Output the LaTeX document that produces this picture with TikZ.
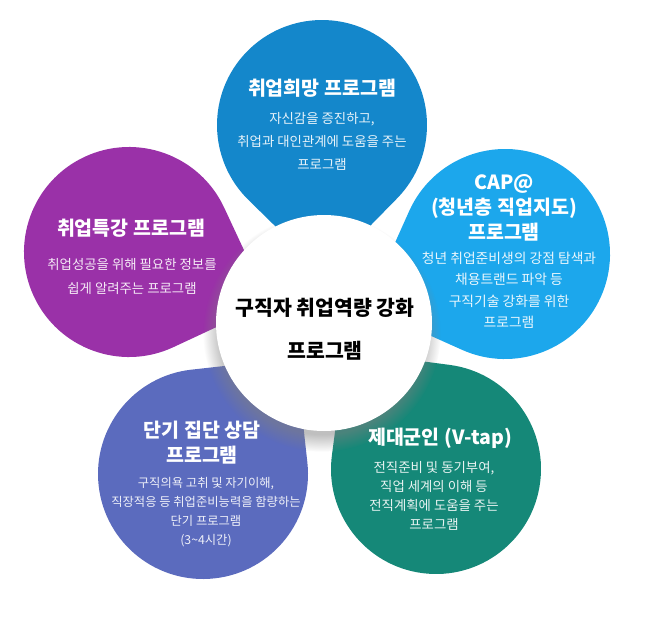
\documentclass[tikz,border=0pt]{standalone}
\usepackage{fontspec}
\setmainfont{Noto Sans CJK KR}
\usetikzlibrary{shadows,fadings}
\definecolor{cTop}{HTML}{1487CB}
\definecolor{cCap}{HTML}{1CA7EC}
\definecolor{cPur}{HTML}{9A31A8}
\definecolor{cInd}{HTML}{5B6BBE}
\definecolor{cTeal}{HTML}{158878}
\newcommand\mypetal[3]{%
  \pgfmathsetmacro\pA{atan2(323-#2,324-#1)}%
  \pgfmathsetmacro\pBx{#1+148.5*cos(\pA)}%
  \pgfmathsetmacro\pBy{#2+148.5*sin(\pA)}%
  \pgfmathsetmacro\pCx{#1+105*cos(\pA+45)}%
  \pgfmathsetmacro\pCy{#2+105*sin(\pA+45)}%
  \fill[#3] (\pBx,\pBy) -- (\pCx,\pCy) arc[start angle=\pA+45, end angle=\pA+315, radius=105] -- cycle;
}
\tikzset{
  ttl/.style={text=white, align=center, font=\bfseries\fontsize{19.5}{25}\selectfont},
  bdy/.style={text=white, text opacity=0.9, align=center, font=\fontsize{13.4}{23}\selectfont},
}
\begin{document}
\begin{tikzpicture}[x=1pt,y=1pt,yscale=-1]
\useasboundingbox[fill=white] (0,0) rectangle (672,616);
% petals
\mypetal{322}{125}{cTop}
\mypetal{505}{254}{cCap}
\mypetal{129}{252}{cPur}
\mypetal{203}{474}{cInd}
\mypetal{436}{469}{cTeal}
% center circle
\fill[white, circular drop shadow={shadow xshift=-2pt, shadow yshift=-9pt, shadow scale=1.1, opacity=0.5}] (324,323) circle[radius=108];
\node[font=\bfseries\fontsize{20.5}{43}\selectfont, align=center] (ctr) at (325,329) {구직자 취업역량 강화\\프로그램};
% top petal
\node[ttl] (t1) at (322,88) {취업희망 프로그램};
\node[bdy] (b1) at (322,141) {자신감을 증진하고,\\취업과 대인관계에 도움을 주는\\프로그램};
% CAP petal
\node[ttl] (t2) at (504,208) {CAP@\\(청년층 직업지도)\\프로그램};
\node[bdy, font=\fontsize{13.8}{21.5}\selectfont] (b2) at (509,290) {청년 취업준비생의 강점 탐색과\\채용트랜드 파악 등\\구직기술 강화를 위한\\프로그램};
% purple petal
\node[ttl] (t3) at (131,228) {취업특강 프로그램};
\node[bdy, font=\fontsize{13.4}{24}\selectfont] (b3) at (132,276) {취업성공을 위해 필요한 정보를\\쉽게 알려주는 프로그램};
% indigo petal
\node[ttl] (t4) at (202,443) {단기 집단 상담\\프로그램};
\node[bdy, font=\fontsize{12.3}{19}\selectfont] (b4) at (206,512) {구직의욕 고취 및 자기이해,\\직장적응 등 취업준비능력을 함량하는\\단기 프로그램\\(3\textasciitilde 4시간)};
% teal petal
\node[ttl] (t5) at (440,438) {제대군인 (V-tap)};
\node[bdy, font=\fontsize{13.4}{19}\selectfont] (b5) at (434,496) {전직준비 및 동기부여,\\직업 세계의 이해 등\\전직계획에 도움을 주는\\프로그램};
\end{tikzpicture}
\end{document}
